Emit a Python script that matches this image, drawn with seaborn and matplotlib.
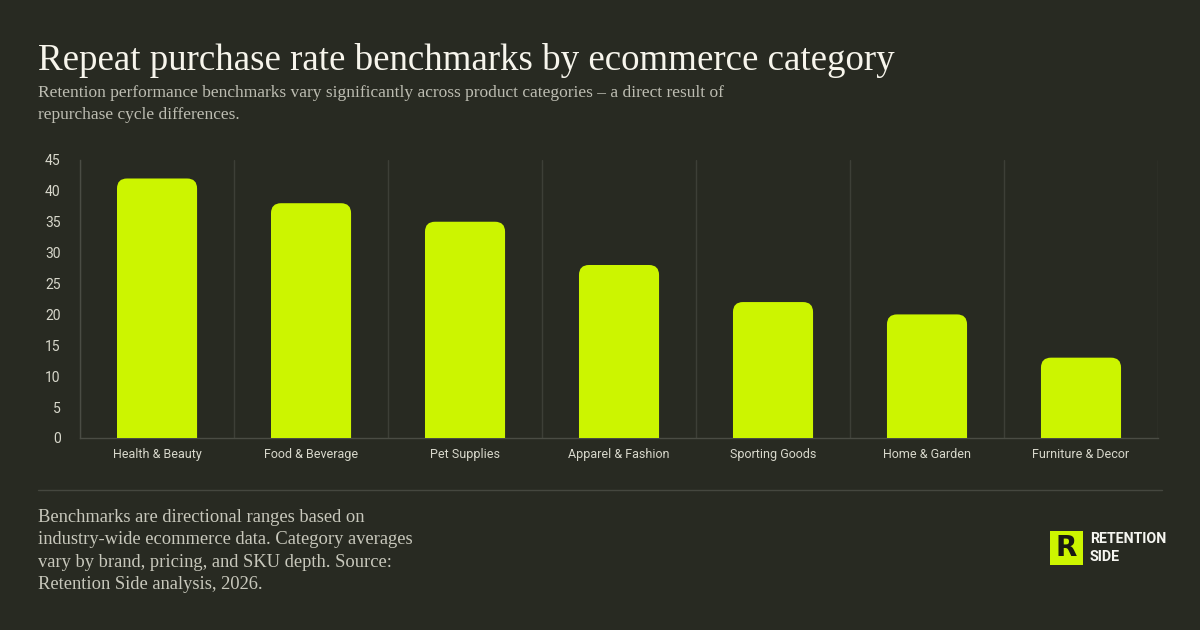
import numpy as np
import pandas as pd
import seaborn as sns
import matplotlib.pyplot as plt
from matplotlib.patches import FancyBboxPatch, Rectangle

categories = ["Health & Beauty", "Food & Beverage", "Pet Supplies", "Apparel & Fashion",
              "Sporting Goods", "Home & Garden", "Furniture & Decor"]
repeat_rate = [42, 38, 35, 28, 22, 20, 13]
y_ticks = [0, 5, 10, 15, 20, 25, 30, 35, 40, 45]

BG = "#282a22"
LIME = "#ccf500"
GRID = "#3d3f37"
TEXT = "#d8d8cc"

df = pd.DataFrame({"category": categories, "rate": repeat_rate})

sns.set_style("white")
plt.rcParams["font.family"] = ["Roboto", "DejaVu Sans"]

fig = plt.figure(figsize=(12, 6.3), dpi=100, facecolor=BG)
ax = fig.add_axes([0.0667, 0.3048, 0.8983, 0.4413])
ax.set_facecolor(BG)

sns.barplot(data=df, x="category", y="rate", color=LIME, width=0.52,
            saturation=1, ax=ax)

# swap plain bars for bars with rounded tops (bottom part hidden under y=0)
ax.set_xlim(-0.5, len(categories) - 0.5)
ax.set_ylim(0, 45)
fig.canvas.draw()
bb = ax.get_window_extent()
x_per_px = (len(categories)) / bb.width
y_per_px = 45 / bb.height
aspect = y_per_px / x_per_px
r = 10 * x_per_px
for p in list(ax.patches):
    x0, w, h = p.get_x(), p.get_width(), p.get_height()
    p.remove()
    ax.add_patch(FancyBboxPatch((x0, -5), w, h + 5,
                                boxstyle=f"round,pad=0,rounding_size={r}",
                                mutation_aspect=aspect, fc=LIME, ec="none",
                                zorder=3, clip_on=True))

ax.set_yticks(y_ticks)
ax.set_xticks(range(len(categories)))
ax.set_xticks(np.arange(-0.5, len(categories), 1), minor=True)
ax.grid(False)
ax.grid(True, which="minor", axis="x", color=GRID, lw=1)
ax.tick_params(axis="both", which="both", length=0, colors=TEXT)
ax.tick_params(axis="x", pad=7, labelsize=9)
ax.tick_params(axis="y", pad=14, labelsize=10)
ax.set_xlabel("")
ax.set_ylabel("")
for s in ["top", "right"]:
    ax.spines[s].set_visible(False)
for s in ["left", "bottom"]:
    ax.spines[s].set_color("#4a4c44")
    ax.spines[s].set_linewidth(1)

serif = ["Liberation Serif", "DejaVu Serif"]
fig.text(38 / 1200, 1 - 60 / 630, "Repeat purchase rate benchmarks by ecommerce category",
         family=serif, fontsize=26.6, color="#f7f5ec", va="center", ha="left")
fig.text(38 / 1200, 1 - 104 / 630,
         "Retention performance benchmarks vary significantly across product categories \u2013 a direct result of\nrepurchase cycle differences.",
         family=serif, fontsize=12.5, color="#bdbdb2", va="center", ha="left", linespacing=1.55)

fig.add_artist(plt.Line2D([38 / 1200, 1162 / 1200], [1 - 490 / 630] * 2,
                          color="#45473f", lw=1))

fig.text(38 / 1200, 1 - 551 / 630,
         "Benchmarks are directional ranges based on\nindustry-wide ecommerce data. Category averages\nvary by brand, pricing, and SKU depth. Source:\nRetention Side analysis, 2026.",
         family=serif, fontsize=13.3, color="#c8c8bc", va="center", ha="left", linespacing=1.4)

# logo
fig.add_artist(Rectangle((1050 / 1200, 1 - 565 / 630), 33 / 1200, 34 / 630,
                         transform=fig.transFigure, fc=LIME, ec="none"))
fig.text(1066.5 / 1200, 1 - 548 / 630, "R", fontsize=20, fontweight="bold",
         color="#1a1a14", ha="center", va="center", family=["DejaVu Sans"])
fig.text(1090 / 1200, 1 - 548 / 630, "RETENTION\nSIDE", fontsize=10.2, fontweight="bold",
         color="#f5f5f0", ha="left", va="center", linespacing=1.45,
         family=["Liberation Sans Narrow", "Roboto"])

fig.savefig("out.png", dpi=100, facecolor=BG)
